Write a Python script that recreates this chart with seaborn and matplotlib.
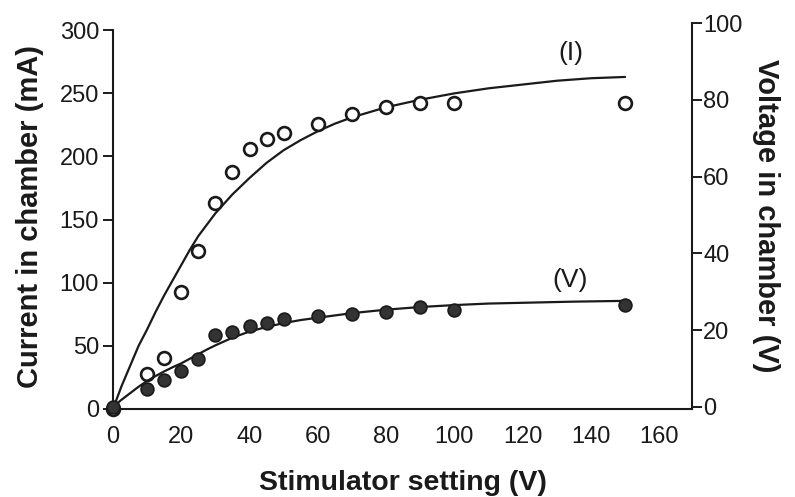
import matplotlib
matplotlib.use("Agg")
import matplotlib.pyplot as plt
import seaborn as sns
import pandas as pd

# --- data ---
setting = [0, 10, 15, 20, 25, 30, 35, 40, 45, 50, 60, 70, 80, 90, 100, 150]
current_ma = [0, 28, 40, 93, 125, 163, 188, 206, 214, 219, 226, 234, 239, 242, 242, 242]
voltage_v = [0, 4.5, 7.0, 9.4, 12.4, 18.7, 19.6, 21.0, 21.9, 22.8, 23.7, 24.2, 24.6, 25.9, 25.2, 26.5]

# fitted curves
curve_i_x = [0, 2.5, 5, 7.5, 10, 12.5, 15, 17.5, 20, 22.5, 25, 27.5, 30, 35, 40,
             45, 50, 55, 60, 65, 70, 75, 80, 90, 100, 110, 120, 130, 140, 150]
curve_i_y = [0, 18, 34, 50, 63, 77, 90, 102, 114, 126, 137, 146, 155, 170, 183,
             195, 205, 213, 220, 226, 231, 235, 239, 245, 250, 254, 257, 260, 262, 263]

curve_v_x = [0, 2.5, 5, 7.5, 10, 12.5, 15, 17.5, 20, 22.5, 25, 27.5, 30, 35, 40,
             45, 50, 55, 60, 70, 80, 90, 100, 110, 120, 135, 150]
curve_v_y = [0, 1.8, 3.5, 5.2, 6.7, 8.0, 9.2, 10.3, 11.3, 12.5, 13.7, 14.9, 16.0,
             18.0, 19.6, 20.8, 21.8, 22.6, 23.2, 24.4, 25.3, 26.0, 26.5, 26.9,
             27.1, 27.4, 27.6]

x_ticks = [0, 20, 40, 60, 80, 100, 120, 140, 160]
left_ticks = [0, 50, 100, 150, 200, 250, 300]
right_ticks = [0, 20, 40, 60, 80, 100]

sns.set_style("white")
plt.rcParams["font.family"] = ["Liberation Sans", "DejaVu Sans"]

INK = "#1a1a1a"
fig = plt.figure(figsize=(7.95, 4.97), dpi=100)
ax = fig.add_axes([0.1421, 0.1771, 0.7283, 0.776])
ax2 = ax.twinx()

pts = pd.DataFrame({"setting": setting, "current": current_ma, "voltage": voltage_v})
ci = pd.DataFrame({"x": curve_i_x, "y": curve_i_y})
cv = pd.DataFrame({"x": curve_v_x, "y": curve_v_y})

sns.lineplot(data=ci, x="x", y="y", ax=ax, color=INK, lw=1.6, sort=False,
             estimator=None)
sns.scatterplot(data=pts, x="setting", y="current", ax=ax, marker="o", s=85,
                facecolor="white", edgecolor=INK, linewidth=1.9, zorder=3,
                clip_on=False)

sns.lineplot(data=cv, x="x", y="y", ax=ax2, color=INK, lw=1.6, sort=False,
             estimator=None)
sns.scatterplot(data=pts, x="setting", y="voltage", ax=ax2, marker="o", s=85,
                color="#333333", edgecolor=INK, linewidth=1.2, zorder=3,
                clip_on=False)

ax.set_xlim(0, 169.6)
ax.set_ylim(0, 305.5)
ax2.set_ylim(-0.6, 100)

ax.set_xticks(x_ticks)
ax.set_yticks(left_ticks)
ax2.set_yticks(right_ticks)

for a in (ax, ax2):
    a.spines["top"].set_visible(False)
    for s in a.spines.values():
        s.set_color(INK)
        s.set_linewidth(1.5)
ax.spines["right"].set_visible(False)
ax2.spines["left"].set_visible(False)
ax2.spines["bottom"].set_visible(False)
ax.spines["left"].set_bounds(0, 300)

ax.tick_params(axis="both", direction="out", length=7, width=1.4, color=INK,
               labelsize=17, labelcolor=INK, pad=3)
ax.tick_params(axis="x", pad=5)
ax2.tick_params(axis="y", direction="out", length=7, width=1.4, color=INK,
                labelsize=17, labelcolor=INK, pad=1)

ax.set_xlabel("Stimulator setting (V)", fontsize=20.5, fontweight="bold",
              color=INK, labelpad=16)
ax.set_ylabel("Current in chamber (mA)", fontsize=21, fontweight="bold",
              color=INK, labelpad=11)
ax2.set_ylabel("Voltage in chamber (V)", fontsize=21, fontweight="bold",
               color=INK, rotation=-90, labelpad=27)

ax.text(134, 282, "(I)", fontsize=19, color=INK, ha="center", va="center")
ax2.text(134, 33, "(V)", fontsize=19, color=INK, ha="center", va="center")

fig.savefig("out.png", dpi=100)
